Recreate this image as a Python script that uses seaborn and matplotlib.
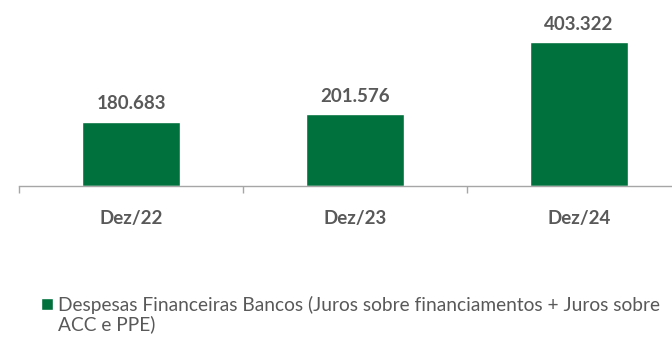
import matplotlib
matplotlib.use("Agg")
import matplotlib.pyplot as plt
import seaborn as sns
import pandas as pd
from matplotlib.ticker import FixedLocator

categories = ["Dez/22", "Dez/23", "Dez/24"]
values = [180683, 201576, 403322]
series_line1 = "Despesas Financeiras Bancos (Juros sobre financiamentos + Juros sobre"
series_line2 = "ACC e PPE)"

green = "#00703C"
text_gray = "#595959"
axis_gray = "#A6A6A6"

sns.set_theme(style="white")
plt.rcParams["font.family"] = ["Lato", "DejaVu Sans"]

df = pd.DataFrame({"periodo": categories, "valor": values, "serie": series_line1})

fig = plt.figure(figsize=(6.72, 3.38), dpi=100)
W, H = 672, 338
# axes spans from x=19px to x=691px (runs past the right edge), baseline at y=186px
ax = fig.add_axes([19 / W, 1 - 186 / H, 672 / W, 176 / H])

sns.barplot(data=df, x="periodo", y="valor", hue="serie", palette=[green],
            saturation=1, width=0.44, dodge=False, ax=ax, legend=True)

ax.set_xlim(-0.5, 2.5)
ax.set_ylim(0, 494600)

labels = [f"{v:,}".replace(",", ".") for v in values]
ax.bar_label(ax.containers[0], labels=labels, padding=7, fontsize=13.5,
             fontweight="bold", color=text_gray)

for s in ["top", "right", "left"]:
    ax.spines[s].set_visible(False)
ax.spines["bottom"].set_color(axis_gray)
ax.spines["bottom"].set_linewidth(1.0)
ax.set_yticks([])
ax.set_xlabel("")
ax.set_ylabel("")
ax.tick_params(axis="x", which="major", length=0, pad=17, labelsize=13.5,
               labelcolor=text_gray)
for t in ax.get_xticklabels():
    t.set_fontweight("bold")
ax.xaxis.set_minor_locator(FixedLocator([-0.5, 0.5, 1.5, 2.5]))
ax.tick_params(axis="x", which="minor", bottom=True, length=5, width=1.0,
               color=axis_gray, direction="out")

leg = ax.legend(loc="upper left", bbox_to_anchor=(41 / W, 1 - 296 / H),
                bbox_transform=fig.transFigure, frameon=False, fontsize=13.8,
                handlelength=0.6, handleheight=0.6, handletextpad=0.3,
                borderaxespad=0, borderpad=0)
for t in leg.get_texts():
    t.set_color(text_gray)

# continuation line of the legend label, aligned with the first line
fig.canvas.draw()
bb = leg.get_texts()[0].get_window_extent()
fig.text(bb.x0 / W, (bb.y0 - 19) / H, series_line2, fontsize=13.8,
         color=text_gray, ha="left", va="bottom")

fig.savefig("out.png", dpi=100)
